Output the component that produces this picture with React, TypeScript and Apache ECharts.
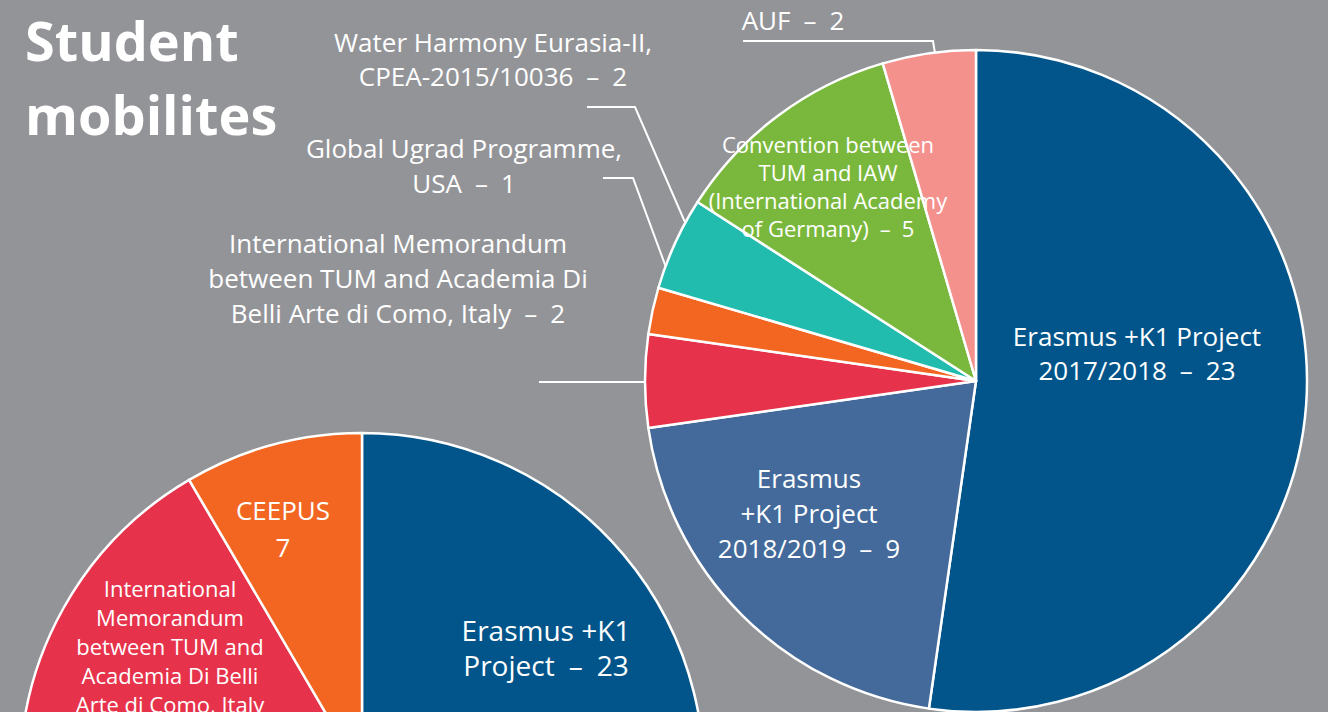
import { useEffect, useRef } from 'react';
import * as echarts from 'echarts';

// ---- Data ----
const bigCategories = [
  'Erasmus +K1 Project\n2017/2018',
  'Erasmus\n+K1 Project\n2018/2019',
  'International Memorandum\nbetween TUM and Academia Di\nBelli Arte di Como, Italy',
  'Global Ugrad Programme,\nUSA',
  'Water Harmony Eurasia-II,\nCPEA-2015/10036',
  'Convention between\nTUM and IAW\n(International Academy\nof Germany)',
  'AUF',
];
const bigValues = [23, 9, 2, 1, 2, 5, 2];

const smallCategories = [
  'Erasmus +K1\nProject',
  'Other',
  'International\nMemorandum\nbetween TUM and\nAcademia Di Belli\nArte di Como, Italy',
  'CEEPUS',
];
const smallValues = [23, 39, 14, 7];

// ---- Styles ----
const BG = '#939498';
const bigColors = ['#02558a', '#436a9b', '#e6334b', '#f36621', '#21bcad', '#7ab83d', '#f4918d'];
const smallColors = ['#02558a', '#436a9b', '#e6334b', '#f36621'];
const FONT = '"Open Sans", "Noto Sans", sans-serif';
const DASH = '\u2002–\u2002';

const bigInside = [true, true, false, false, false, true, false];
const bigFontSize = [26, 26, 26, 26, 26, 22, 26];
const bigLineHeight = [34, 35, 35, 35, 34, 28, 34];
const bigLabelPos: number[][] = [
  [1137, 353], [809, 513], [398, 278], [464, 165], [493, 59], [828, 186], [793, 20],
];
const bigLinePts: Record<number, number[][]> = {
  2: [[693, 382], [539, 382]],
  3: [[684, 316], [633, 178], [603, 178]],
  4: [[694, 243], [635, 107], [587, 107]],
  6: [[948, 133], [933, 41], [743, 41]],
};

const smallFormat = ['{b}' + DASH + '{c}', '', '{b}', '{b}\n{c}'];
const smallFontSize = [28, 12, 22, 26];
const smallLineHeight = [35, 12, 29, 37];
const smallLabelPos: (number[] | null)[] = [[546, 647], null, [170, 646], [283, 528]];

export default function App() {
  const ref = useRef<HTMLDivElement>(null);
  useEffect(() => {
    if (!ref.current) return;
    const chart = echarts.init(ref.current, undefined, { renderer: 'svg' });
    const bigData = bigCategories.map((name, i) => ({
      name,
      value: bigValues[i],
      itemStyle: { color: bigColors[i] },
      label: {
        show: true,
        position: bigInside[i] ? 'inside' : 'outside',
        formatter: '{b}' + DASH + '{c}',
        color: '#fff',
        fontFamily: FONT,
        fontSize: bigFontSize[i],
        lineHeight: bigLineHeight[i],
        align: 'center',
      },
      labelLine: { show: !bigInside[i] },
    }));
    const smallData = smallCategories.map((name, i) => ({
      name,
      value: smallValues[i],
      itemStyle: { color: smallColors[i] },
      label: {
        show: smallLabelPos[i] !== null,
        position: 'inside',
        formatter: smallFormat[i],
        color: '#fff',
        fontFamily: FONT,
        fontSize: smallFontSize[i],
        lineHeight: smallLineHeight[i],
        align: 'center',
      },
      labelLine: { show: false },
    }));
    chart.setOption({
      animation: false,
      backgroundColor: BG,
      title: {
        text: 'Student\nmobilites',
        left: 20,
        top: -2,
        textStyle: {
          color: '#fff',
          fontFamily: FONT,
          fontWeight: 'bold',
          fontSize: 54,
          lineHeight: 74,
        },
      },
      series: [
        {
          type: 'pie',
          center: [976, 381],
          radius: [0, 331],
          startAngle: 90,
          clockwise: true,
          avoidLabelOverlap: false,
          itemStyle: { borderColor: '#fff', borderWidth: 2.5 },
          labelLine: {
            show: true,
            smooth: false,
            length: 10,
            length2: 10,
            lineStyle: { color: '#fff', width: 2 },
          },
          labelLayout: (p: any) => {
            const pos = bigLabelPos[p.dataIndex];
            const r: any = { x: pos[0], y: pos[1], align: 'center', verticalAlign: 'middle' };
            const lp = bigLinePts[p.dataIndex];
            if (lp) r.labelLinePoints = lp;
            return r;
          },
          emphasis: { disabled: true },
          data: bigData,
        },
        {
          type: 'pie',
          center: [362, 775],
          radius: [0, 342],
          startAngle: 90,
          clockwise: true,
          avoidLabelOverlap: false,
          itemStyle: { borderColor: '#fff', borderWidth: 2.5 },
          labelLayout: (p: any) => {
            const pos = smallLabelPos[p.dataIndex];
            if (!pos) return {};
            return { x: pos[0], y: pos[1], align: 'center', verticalAlign: 'middle' };
          },
          emphasis: { disabled: true },
          data: smallData,
        },
      ],
    });
    return () => chart.dispose();
  }, []);
  return (
    <div
      ref={ref}
      style={{ position: 'absolute', left: 0, top: 0, width: 1328, height: 712 }}
    />
  );
}
